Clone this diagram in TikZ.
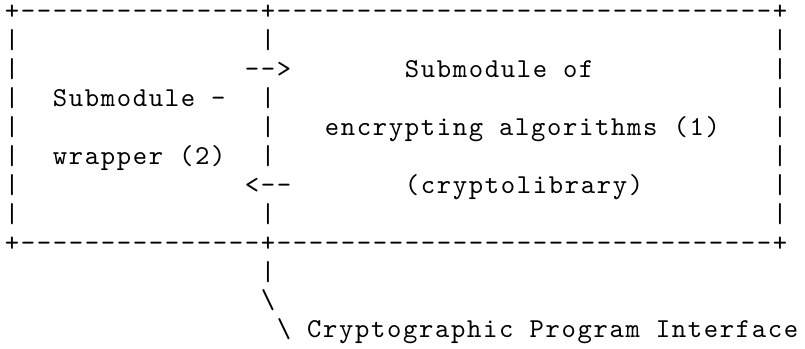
\documentclass[tikz,border=0pt]{standalone}
\usepackage{fontspec}
\usepackage{tikz}
\newfontfamily\asciifont{lmmono10-regular}[Extension=.otf, LetterSpace=6.05]

\begin{document}
\begin{tikzpicture}[x=12pt, y=-21.675pt,
    ascii/.style={anchor=base west, inner sep=0pt, font=\fontsize{20.5pt}{22pt}\asciifont}]
    \useasboundingbox (-0.283,-0.6886) rectangle (50.03,11.3875);

    % Frame, top and bottom
    \node[ascii] (topedge) at (0,0) {+---------------+-------------------------------+};
    \node[ascii] (bottomedge) at (0,8) {+---------------+-------------------------------+};

    % Walls
    \node[ascii] (wallL1) at (0,1) {|};
    \node[ascii] (wallM1) at (16,1) {|};
    \node[ascii] (wallR1) at (48,1) {|};
    \node[ascii] (wallL2) at (0,2) {|};
    \node[ascii] (wallR2) at (48,2) {|};
    \node[ascii] (wallL3) at (0,3) {|};
    \node[ascii] (wallM3) at (16,3) {|};
    \node[ascii] (wallR3) at (48,3) {|};
    \node[ascii] (wallL4) at (0,4) {|};
    \node[ascii] (wallM4) at (16,4) {|};
    \node[ascii] (wallR4) at (48,4) {|};
    \node[ascii] (wallL5) at (0,5) {|};
    \node[ascii] (wallM5) at (16,5) {|};
    \node[ascii] (wallR5) at (48,5) {|};
    \node[ascii] (wallL6) at (0,6) {|};
    \node[ascii] (wallR6) at (48,6) {|};
    \node[ascii] (wallL7) at (0,7) {|};
    \node[ascii] (wallM7) at (16,7) {|};
    \node[ascii] (wallR7) at (48,7) {|};

    % Arrows between the submodules
    \node[ascii] (toright) at (15,2) {-{}-{}>};
    \node[ascii] (toleft) at (15,6) {<-{}-};

    % Wrapper submodule
    \node[ascii] (wrapA) at (3,3) {Submodule -};
    \node[ascii] (wrapB) at (3,5) {wrapper (2)};

    % Crypto submodule
    \node[ascii] (cryptA) at (25,2) {Submodule of};
    \node[ascii] (cryptB) at (20,4) {encrypting algorithms (1)};
    \node[ascii] (cryptC) at (25,6) {(cryptolibrary)};

    % Interface leader
    \node[ascii] (leadA) at (16,9) {|};
    \node[ascii] (leadB) at (16,10) {\textbackslash};
    \node[ascii] (api) at (17,11) {\textbackslash{} Cryptographic Program Interface};
\end{tikzpicture}
\end{document}
